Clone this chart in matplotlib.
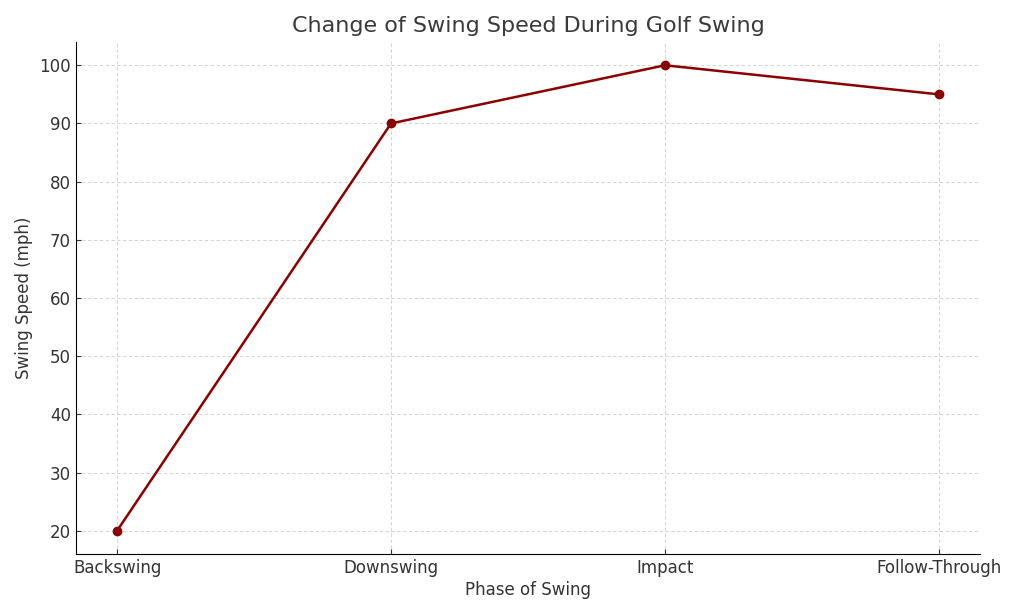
import matplotlib
matplotlib.use("Agg")
import matplotlib.pyplot as plt

# data
phases = ["Backswing", "Downswing", "Impact", "Follow-Through"]
speeds = [20, 90, 100, 95]

fig = plt.figure(figsize=(10.24, 6.14), dpi=100)
ax = fig.add_axes([0.0742, 0.0977, 0.8828, 0.8339])

ax.plot(phases, speeds, color="#8b0000", marker="o", markersize=6, linewidth=1.8)

ax.set_title("Change of Swing Speed During Golf Swing", fontsize=16, color="#3a3a3a", pad=7)
ax.set_xlabel("Phase of Swing", fontsize=12, color="#333333", labelpad=3)
ax.set_ylabel("Swing Speed (mph)", fontsize=12, color="#333333", labelpad=5)
ax.tick_params(labelsize=12, colors="#333333", direction="in")

ax.grid(True, linestyle=(0, (4, 3)), color="#cccccc", linewidth=0.6)
ax.spines["top"].set_visible(False)
ax.spines["right"].set_visible(False)

plt.savefig("out.png", dpi=100)
